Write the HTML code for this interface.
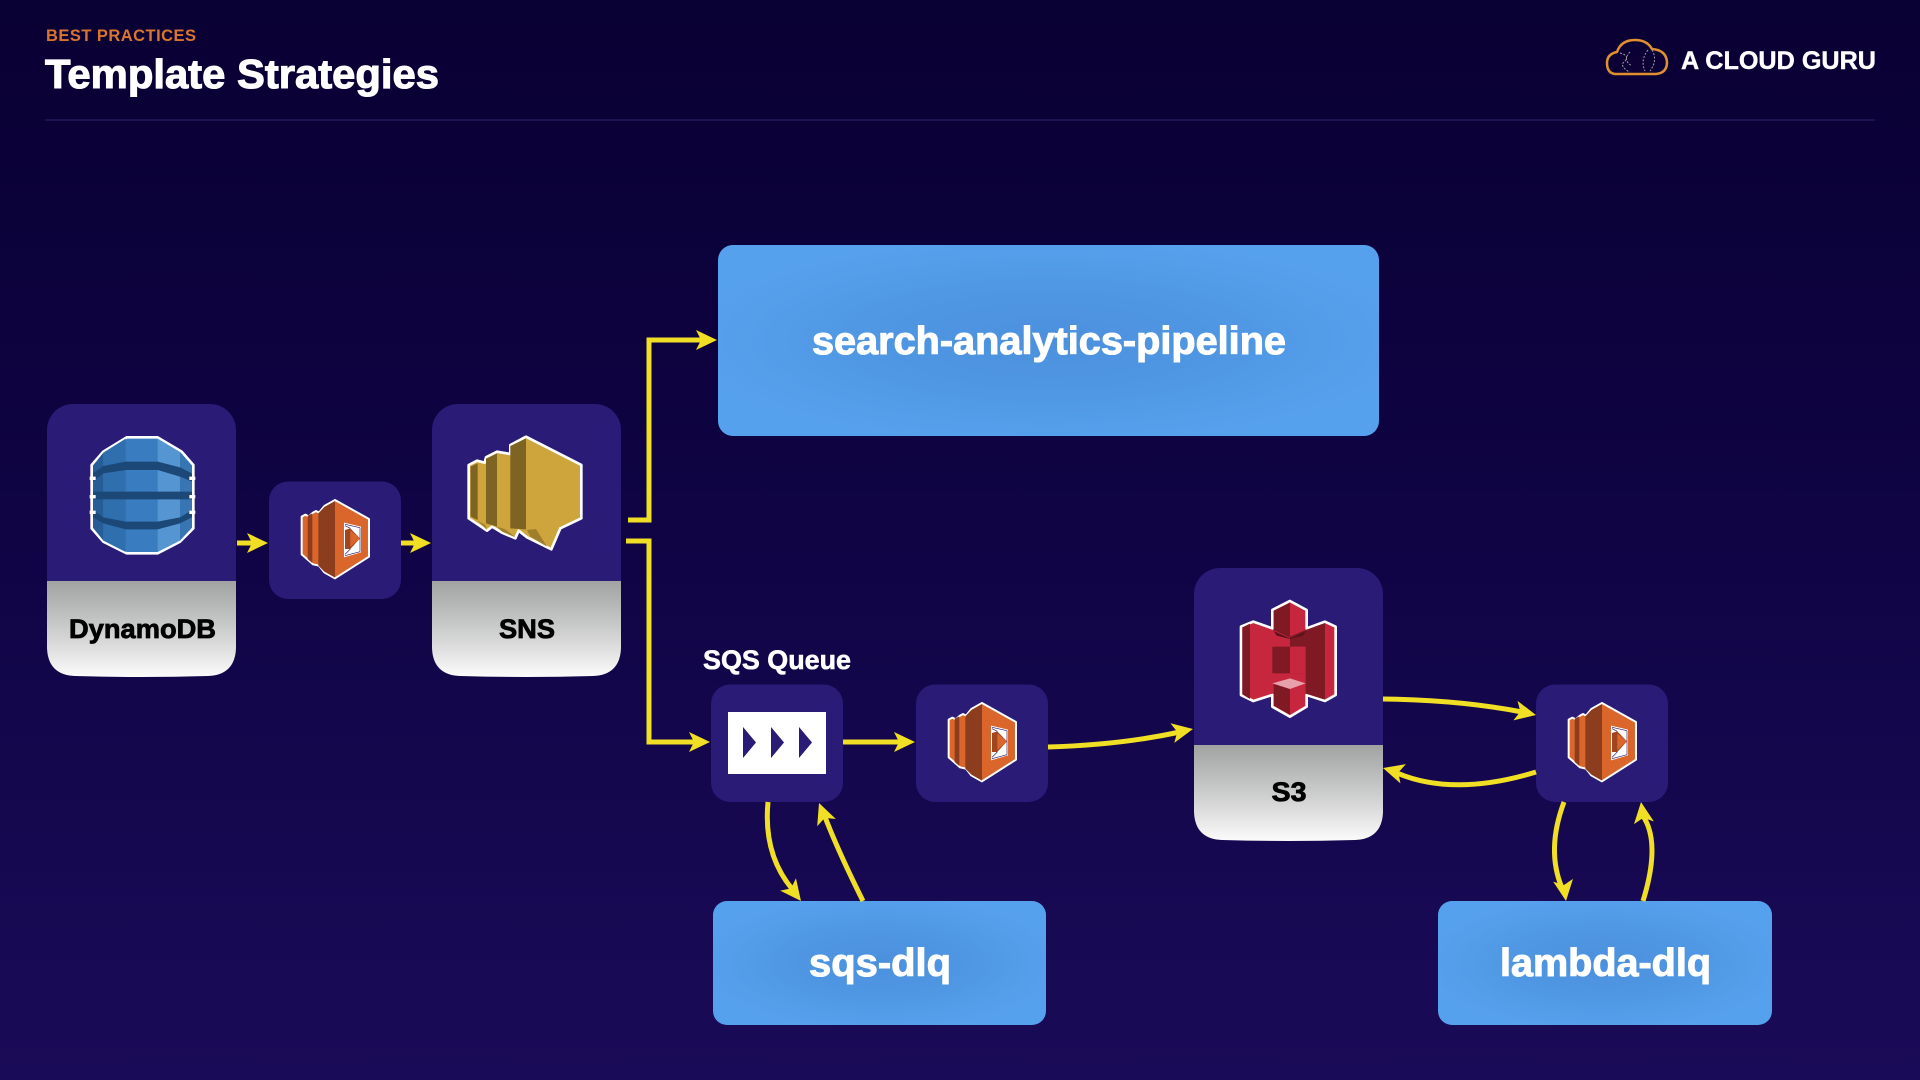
<!DOCTYPE html>
<html><head><meta charset="utf-8"><title>Template Strategies</title>
<style>html,body{margin:0;padding:0;background:#0a0033}svg{display:block}text{font-family:"Liberation Sans",sans-serif;font-weight:700}</style></head>
<body>
<svg xmlns="http://www.w3.org/2000/svg" width="1920" height="1080" viewBox="0 0 1920 1080">
<defs>
<linearGradient id="bg" x1="0" y1="0" x2="0" y2="1"><stop offset="0" stop-color="#090033"/><stop offset=".5" stop-color="#100445"/><stop offset="1" stop-color="#1a0b58"/></linearGradient>
<linearGradient id="lbl" x1="0" y1="0" x2="0" y2="1"><stop offset="0" stop-color="#a1a2a2"/><stop offset=".5" stop-color="#cbcccc"/><stop offset="1" stop-color="#fbfbfb"/></linearGradient>
<radialGradient id="blue" cx=".5" cy=".5" r=".55"><stop offset="0" stop-color="#4c90dc"/><stop offset=".55" stop-color="#5098e4"/><stop offset="1" stop-color="#56a1ee"/></radialGradient>
<g id="card"><rect x="47" y="404" width="189" height="230" rx="26" fill="#291b76"/><path d="M47 581H236V648Q235 675 208 676Q142 678 75 676Q48 675 47 648Z" fill="url(#lbl)"/></g>
<g id="lam">
<rect x="269" y="481.500" width="132" height="117.500" rx="19" fill="#291b76"/>
<g transform="translate(295 495) scale(.3333)" stroke-linejoin="round">
<path d="M20 65L31 59L41 64L54 53L63 48L72 53L88 33L120 15L222 72V185L120 250L88 232L72 212L54 208L45 200L20 178Z" fill="#db662c" stroke="#fff" stroke-width="6"/>
<path d="M38 62L52 55V204L38 192ZM70 55L88 36V230L70 212ZM88 36L120 18V248L88 230Z" fill="#8c3d1e"/>
<path d="M147 83L198 95V172L147 187Z" fill="#fff"/>
<path d="M150 105L166 100L195 130L166 162L150 162Z" fill="#9d4620"/>
<path d="M166 106L195 130L166 156Z" fill="#db662c"/>
<path d="M150 88L195 98M150 182L195 170M195 98V170M166 100L150 92M166 162L150 178" stroke="#2a1f66" stroke-width="2" fill="none"/>
</g></g>
<path id="hd" d="M0 0L-21 -10L-16 0L-21 10Z" fill="#f1df25"/>
</defs>
<rect width="1920" height="1080" fill="url(#bg)"/>

<!-- header -->
<text x="46" y="41" font-size="16.500" fill="#d9752f" textLength="150" lengthAdjust="spacing">BEST PRACTICES</text>
<text x="45" y="88" font-size="41" fill="#fff" stroke="#fff" stroke-width="1.100" textLength="394" lengthAdjust="spacingAndGlyphs">Template Strategies</text>
<rect x="45" y="119" width="1830" height="2" fill="#1d124f"/>
<path d="M1615 74Q1607 73 1607 63Q1607 54 1617 52Q1621 40 1635 40Q1647 40 1652 49Q1666 50 1667 62Q1667 73 1656 74Z" fill="none" stroke="#e0902e" stroke-width="2.500" stroke-linejoin="round"/>
<path d="M1620 53Q1632 56 1622 64Q1624 70 1630 72M1630 52Q1622 60 1632 66M1648 50Q1640 60 1645 71M1652 50Q1658 60 1650 71" fill="none" stroke="#a89a9a" stroke-width="1" stroke-dasharray="2 1.500"/>
<text x="1681" y="69" font-size="25" fill="#fff" stroke="#fff" stroke-width=".4" textLength="195" lengthAdjust="spacingAndGlyphs">A CLOUD GURU</text>

<!-- big cards -->
<use href="#card"/>
<use href="#card" x="385"/>
<use href="#card" x="1147" y="164"/>
<text x="142.500" y="638" font-size="27" fill="#000" stroke="#000" stroke-width=".8" text-anchor="middle" textLength="147" lengthAdjust="spacingAndGlyphs">DynamoDB</text>
<text x="527" y="638" font-size="27" fill="#000" stroke="#000" stroke-width=".8" text-anchor="middle" textLength="56" lengthAdjust="spacingAndGlyphs">SNS</text>
<text x="1289" y="801" font-size="27" fill="#000" stroke="#000" stroke-width=".8" text-anchor="middle" textLength="35" lengthAdjust="spacingAndGlyphs">S3</text>

<!-- small cards -->
<use href="#lam"/>
<use href="#lam" x="647" y="203"/>
<use href="#lam" x="1267" y="203"/>
<rect x="711" y="684.500" width="132" height="117.500" rx="19" fill="#291b76"/>
<rect x="728" y="712" width="98" height="62" fill="#fff"/>
<path d="M743 727L756 742.500L743 758ZM771 727L784 742.500L771 758ZM799 727L812 742.500L799 758Z" fill="#291b76"/>
<text x="703" y="669" font-size="27" fill="#fff" stroke="#fff" stroke-width=".6" textLength="148" lengthAdjust="spacingAndGlyphs">SQS Queue</text>

<!-- DynamoDB icon -->
<g transform="translate(85 430) scale(.3333)" stroke-linejoin="round">
<path d="M125 22H218L290 65L325 105V295L285 335L218 370H125L55 335L20 295V105L55 65Z" fill="#3a7cc0" stroke="#fff" stroke-width="8"/>
<path d="M24 107L55 68V332L24 293Z" fill="#275d96"/>
<path d="M55 68L122 26V366L55 332Z" fill="#2f6fae"/>
<path d="M218 26L285 66V332L218 366Z" fill="#5596d2"/>
<path d="M285 66L321 107V293L285 332Z" fill="#3775b3"/>
<path d="M24 130L55 108L122 95H218L285 112L321 130V155L285 140L218 120H122L55 130L24 155ZM24 185H321V208H24ZM24 240L55 262L122 275H218L285 262L321 240V262L285 280L218 298H122L55 280L24 262Z" fill="#1c4878"/>
<path d="M14 140h18v10H14ZM313 140h18v10h-18ZM14 195h18v10H14ZM313 195h18v10h-18ZM14 242h18v10H14ZM313 242h18v10h-18Z" fill="#fff"/>
</g>

<!-- SNS icon -->
<g transform="translate(462 430) scale(.3333)" stroke-linejoin="round">
<path d="M20 105L45 92L68 98L72 82L105 65L145 72V45L192 20L358 105V265L295 295L268 358L195 322L170 302L160 325L120 308L90 290L75 302L50 285L20 265Z" fill="#cea53c" stroke="#fff" stroke-width="8"/>
<path d="M145 48L192 25V298L145 295ZM72 86L105 70V290L72 280ZM26 110L47 100V270L26 260Z" fill="#7d6423"/>
<path d="M195 300L222 297L255 350L205 320ZM105 290L130 298L160 322L120 305ZM47 272L70 285L75 300Z" fill="#a07f2b"/>
</g>

<!-- S3 icon -->
<g transform="translate(1235 595) scale(.3333)" stroke-linejoin="round">
<path d="M165 18L215 45V100L270 80L302 95V300L270 318L215 300V335L165 365L112 335V300L55 318L18 300V95L55 80L112 100V45Z" fill="#c7263f" stroke="#fff" stroke-width="8"/>
<path d="M22 97L45 86V312L22 298ZM165 125L212 105L270 84V314L212 296V235L165 235ZM116 47L165 23V128L116 105ZM112 155L165 155V235L112 235ZM116 266L165 282V360L116 332Z" fill="#7f1a24"/>
<path d="M165 155H212V235H165Z" fill="#c7263f"/>
<path d="M116 108L165 130L212 108L205 122L165 132L125 122Z" fill="#5e121b"/>
<path d="M112 265L165 250L212 265L165 282Z" fill="#e8a0aa"/>
</g>

<!-- blue boxes -->
<rect x="718" y="245" width="661" height="191" rx="15" fill="url(#blue)"/>
<rect x="713" y="901" width="333" height="124" rx="14" fill="url(#blue)"/>
<rect x="1438" y="901" width="334" height="124" rx="14" fill="url(#blue)"/>
<text x="812" y="354" font-size="39" fill="#fff" stroke="#fff" stroke-width="1" textLength="474" lengthAdjust="spacingAndGlyphs">search-analytics-pipeline</text>
<text x="809" y="976" font-size="39" fill="#fff" stroke="#fff" stroke-width="1" textLength="142" lengthAdjust="spacingAndGlyphs">sqs-dlq</text>
<text x="1500" y="976" font-size="39" fill="#fff" stroke="#fff" stroke-width="1" textLength="211" lengthAdjust="spacingAndGlyphs">lambda-dlq</text>

<!-- connectors -->
<g fill="none" stroke="#f1df25" stroke-width="5">
<path d="M237 543H252"/>
<path d="M401 543H416"/>
<path d="M628 520H649V340H702"/>
<path d="M626 541H649V742H695"/>
<path d="M843 742H900"/>
<path d="M1048 747Q1120 745 1180 732"/>
<path d="M1383 699Q1460 700 1522 712"/>
<path d="M1536 772Q1454 797 1397 773"/>
<path d="M1564 802Q1546 850 1562 888"/>
<path d="M1643 901Q1661 843 1643 816"/>
<path d="M768 802Q763 855 793 890"/>
<path d="M863 901Q839 853 825 817"/>
</g>
<use href="#hd" transform="translate(268 543)"/>
<use href="#hd" transform="translate(431 543)"/>
<use href="#hd" transform="translate(717 340)"/>
<use href="#hd" transform="translate(710 742)"/>
<use href="#hd" transform="translate(915 742)"/>
<use href="#hd" transform="translate(1193 729) rotate(-11)"/>
<use href="#hd" transform="translate(1536 715) rotate(12)"/>
<use href="#hd" transform="translate(1383 768) rotate(196)"/>
<use href="#hd" transform="translate(1566 901) rotate(82)"/>
<use href="#hd" transform="translate(1641 802) rotate(-98)"/>
<use href="#hd" transform="translate(801 901) rotate(52)"/>
<use href="#hd" transform="translate(819 803) rotate(-111)"/>
</svg>
</body></html>
